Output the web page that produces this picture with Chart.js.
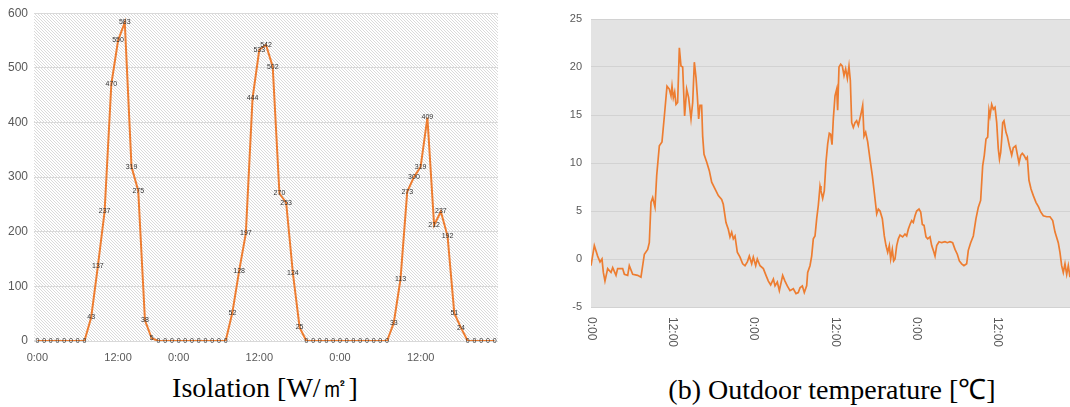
<!DOCTYPE html>
<html>
<head>
<meta charset="utf-8">
<script src="https://cdn.jsdelivr.net/npm/chart.js@4.4.1/dist/chart.umd.min.js"></script>
<style>
body { margin: 0; background: #fff; width: 1070px; height: 407px; overflow: hidden; position: relative; }
#wrapL { position: absolute; left: 0; top: 0; width: 510px; height: 365px; }
#wrapR { position: absolute; left: 560px; top: 0; width: 510px; height: 365px; }
.cap { position: absolute; top: 369px; font-family: 'Liberation Serif', 'Times New Roman', serif; font-size: 28px; color: #000; white-space: nowrap; text-align: center; }
#capL { left: 115px; width: 300px; }
#capR { left: 632px; width: 400px; }
</style>
</head>
<body>
<div id="wrapL"><canvas id="isoChart" width="510" height="365"></canvas></div>
<div id="wrapR"><canvas id="tempChart" width="510" height="365"></canvas></div>
<div class="cap" id="capL">Isolation [W/㎡]</div>
<div class="cap" id="capR">(b) Outdoor temperature [℃]</div>
<script>
// insolation, hourly points
const isoValues = [
    0, 0, 0, 0, 0, 0, 0, 0, 43, 137, 237, 470, 550, 583, 319, 275, 38, 5,
    0, 0, 0, 0, 0, 0, 0, 0, 0, 0, 0,
    52, 128, 197, 444, 533, 542, 502, 270, 253, 124, 25,
    0, 0, 0, 0, 0, 0, 0, 0, 0, 0, 0, 0, 0,
    33, 113, 273, 300, 319, 409, 212, 237, 192, 51, 24,
    0, 0, 0, 0, 0
];
const isoTickIdx = [0, 12, 21, 33, 45, 57];
const isoTickText = ['0:00', '12:00', '0:00', '12:00', '0:00', '12:00'];

// outdoor temperature, hours from start / degC
const tempHours = [
    0.00, 0.49, 0.98, 1.33, 1.62, 1.82, 2.06, 2.46, 2.95, 3.20, 3.69, 3.93, 4.67, 4.92, 5.41, 5.65,
    6.15, 6.88, 7.37, 7.87, 8.36, 8.60, 8.85, 9.10, 9.44, 9.69, 10.08, 10.47, 10.82, 11.21, 11.55,
    11.80, 11.95, 12.14, 12.34, 12.54, 12.78, 13.03, 13.27, 13.52, 13.81, 14.11, 14.40, 14.75, 15.00,
    15.24, 15.49, 15.68, 15.88, 16.08, 16.32, 16.47, 16.67, 17.06, 17.45, 17.80, 18.29, 18.78, 19.27,
    19.51, 19.91, 20.25, 20.50, 20.75, 20.99, 21.24, 21.58, 21.98, 22.37, 22.71, 23.06, 23.35, 23.70,
    23.94, 24.29, 24.53, 24.93, 25.42, 25.81, 26.16, 26.50, 26.90, 27.14, 27.48, 27.78, 28.27, 28.61,
    28.95, 29.35, 29.84, 30.24, 30.57, 30.83, 31.17, 31.46, 31.81, 31.96, 32.30, 32.55, 32.79, 33.04,
    33.29, 33.53, 33.78, 33.92, 34.17, 34.41, 34.66, 34.91, 35.15, 35.35, 35.55, 35.74, 35.99, 36.24,
    36.38, 36.58, 36.83, 37.07, 37.32, 37.56, 37.81, 38.05, 38.25, 38.45, 38.69, 38.94, 39.18, 39.43,
    39.82, 40.07, 40.27, 40.51, 40.81, 41.15, 41.49, 41.79, 42.14, 42.38, 42.63, 42.97, 43.26, 43.51,
    43.76, 44.00, 44.20, 44.44, 44.64, 44.84, 45.09, 45.33, 45.58, 45.97, 46.31, 46.56, 46.80, 47.05,
    47.30, 47.54, 47.79, 48.03, 48.38, 48.63, 48.87, 49.12, 49.41, 49.66, 50.00, 50.25, 50.49, 50.74,
    50.99, 51.33, 51.73, 52.21, 52.55, 52.95, 53.34, 53.69, 54.03, 54.33, 54.67, 55.01, 55.41, 55.65,
    56.00, 56.39, 56.78, 57.13, 57.47, 57.77, 58.01, 58.26, 58.51, 58.70, 58.85, 59.10, 59.34, 59.59,
    59.84, 60.07, 60.25, 60.43, 60.58, 60.72, 60.91, 61.21, 61.40, 61.70, 62.05, 62.29, 62.64, 62.88,
    63.13, 63.38, 63.61, 63.86, 64.16, 64.35, 64.60, 64.90, 65.24, 65.63, 66.03, 66.33, 66.71, 67.21,
    67.70, 68.10, 68.44, 68.92, 69.17, 69.42, 69.66, 69.91, 70.16, 70.40, 70.65
];
const tempValues = [
    -0.7, 1.4, 0.3, -0.3, 0.0, -1.4, -2.3, -1.0, -1.4, -0.9, -1.7, -1.0, -1.0, -1.6, -1.7, -0.7,
    -1.6, -1.7, -1.9, 0.5, 1.0, 1.7, 5.9, 6.4, 5.4, 8.7, 11.8, 12.2, 14.9, 18.0, 17.7,
    17.0, 18.0, 16.8, 17.4, 16.1, 16.3, 22.0, 20.1, 20.0, 14.9, 17.7, 16.8, 14.6, 16.3,
    20.5, 18.9, 17.0, 14.6, 16.0, 16.0, 12.8, 10.9, 10.1, 9.2, 8.0, 7.3, 6.6, 6.2,
    5.7, 3.8, 3.1, 2.3, 2.8, 2.1, 2.4, 0.7, 0.2, -0.5, -0.7, -0.3, 0.3, -0.5,
    0.2, -0.7, 0.0, -0.7, -1.0, -1.7, -2.3, -2.7, -2.1, -2.8, -2.4, -3.3, -1.7, -2.3,
    -2.8, -3.3, -3.1, -3.6, -3.5, -3.0, -2.8, -3.5, -2.8, -1.4, -0.7, 0.3, 2.1, 2.4,
    4.2, 5.6, 7.6, 7.1, 6.3, 7.1, 10.1, 12.0, 13.1, 13.0, 11.9, 14.6, 17.0, 17.7,
    15.5, 20.0, 20.3, 20.1, 19.1, 19.8, 18.8, 20.1, 18.6, 14.2, 13.7, 14.2, 14.4, 13.9,
    15.1, 16.0, 12.8, 13.2, 12.2, 10.4, 8.7, 6.9, 4.7, 5.2, 5.0, 4.2, 2.4, 1.4,
    0.7, 1.4, 0.0, 1.0, -0.2, 0.0, 1.4, 2.1, 2.5, 2.3, 2.6, 2.4, 3.1, 3.6,
    4.0, 3.8, 4.5, 5.0, 5.2, 4.9, 3.6, 3.5, 2.3, 2.1, 2.3, 1.4, 0.9, 0.3,
    1.4, 1.8, 1.7, 1.8, 1.7, 1.8, 1.7, 1.0, 0.5, -0.2, -0.5, -0.7, -0.5, 0.9,
    1.7, 2.4, 4.2, 5.4, 6.1, 9.7, 10.8, 12.5, 12.7, 15.5, 14.9, 16.1, 15.6, 15.8,
    14.2, 11.5, 10.4, 11.1, 12.5, 14.2, 14.4, 13.2, 12.8, 11.8, 10.8, 11.6, 11.8, 10.9,
    10.0, 10.8, 11.0, 10.8, 10.4, 10.6, 8.2, 7.3, 6.6, 5.9, 5.4, 4.9, 4.5, 4.4,
    4.4, 4.0, 2.8, 1.7, 0.7, -0.7, -1.4, -0.5, -1.6, -0.7, -1.9
];
const tempTickHours = [0, 12, 24, 36, 48, 60];
const tempTickText = ['0:00', '12:00', '0:00', '12:00', '0:00', '12:00'];

const orange = '#ed7d31';
const tickColor = '#595959';
const narrow = "'Liberation Sans Narrow', 'Arial Narrow', sans-serif";

// hatch for the left plot area
const hatch = document.createElement('canvas');
hatch.width = 3;
hatch.height = 3;
const hctx = hatch.getContext('2d');
hctx.fillStyle = '#ffffff';
hctx.fillRect(0, 0, 3, 3);
hctx.fillStyle = '#dadada';
for (let i = 0; i < 3; i++) hctx.fillRect(i, i, 1, 1);

const plotBg = {
    id: 'plotBg',
    beforeDraw(chart, args, opts) {
        const a = chart.chartArea;
        const ctx = chart.ctx;
        ctx.save();
        ctx.fillStyle = opts.pattern ? ctx.createPattern(hatch, 'repeat') : opts.color;
        ctx.fillRect(a.left, a.top, a.right - a.left, a.bottom - a.top);
        ctx.restore();
    }
};

const isoLabels = isoValues.map((v, i) => {
    const k = isoTickIdx.indexOf(i);
    return k >= 0 ? isoTickText[k] : '';
});

const pointLabels = {
    id: 'pointLabels',
    afterDatasetsDraw(chart) {
        const ctx = chart.ctx;
        const meta = chart.getDatasetMeta(0);
        ctx.save();
        ctx.font = '7px ' + narrow;
        ctx.fillStyle = '#333333';
        ctx.textAlign = 'center';
        ctx.textBaseline = 'middle';
        meta.data.forEach((pt, i) => {
            ctx.fillText(String(isoValues[i]), pt.x, pt.y);
        });
        ctx.restore();
    }
};

new Chart(document.getElementById('isoChart').getContext('2d'), {
    type: 'line',
    data: {
        labels: isoLabels,
        datasets: [{
            data: isoValues,
            borderColor: orange,
            borderWidth: 2,
            pointRadius: 0,
            tension: 0,
            fill: false
        }]
    },
    options: {
        responsive: false,
        animation: false,
        layout: { padding: { top: 10, right: 12, left: 0, bottom: 0 } },
        plugins: {
            legend: { display: false },
            tooltip: { enabled: false },
            plotBg: { pattern: true }
        },
        scales: {
            x: {
                type: 'category',
                offset: true,
                grid: { display: false, drawTicks: false },
                border: { display: false },
                ticks: {
                    autoSkip: false,
                    maxRotation: 0,
                    minRotation: 0,
                    padding: 10,
                    color: tickColor,
                    font: { family: narrow, size: 11 }
                },
                afterFit: (axis) => { axis.height = 24; }
            },
            y: {
                min: 0,
                max: 600,
                grid: { color: '#d9d9d9', drawTicks: false },
                border: { display: false },
                ticks: {
                    stepSize: 100,
                    padding: 6,
                    color: tickColor,
                    font: { family: narrow, size: 12 }
                },
                afterFit: (axis) => { axis.width = 34; }
            }
        }
    },
    plugins: [plotBg, pointLabels]
});

const rotatedTicks = {
    id: 'rotatedTicks',
    afterDraw(chart) {
        const ctx = chart.ctx;
        const xs = chart.scales.x;
        ctx.save();
        ctx.font = "12px 'Liberation Sans', Arial, sans-serif";
        ctx.fillStyle = tickColor;
        ctx.textAlign = 'left';
        ctx.textBaseline = 'middle';
        tempTickHours.forEach((h, i) => {
            ctx.save();
            ctx.translate(xs.getPixelForValue(h), chart.chartArea.bottom + 10);
            ctx.rotate(Math.PI / 2);
            ctx.fillText(tempTickText[i], 0, 0);
            ctx.restore();
        });
        ctx.restore();
    }
};

new Chart(document.getElementById('tempChart').getContext('2d'), {
    type: 'line',
    data: {
        datasets: [{
            data: tempHours.map((h, i) => ({ x: h, y: tempValues[i] })),
            borderColor: orange,
            borderWidth: 1.7,
            pointRadius: 0,
            tension: 0,
            fill: false
        }]
    },
    options: {
        responsive: false,
        animation: false,
        layout: { padding: { top: 19, right: 0, left: 0, bottom: 0 } },
        plugins: {
            legend: { display: false },
            tooltip: { enabled: false },
            plotBg: { color: '#e3e3e3' }
        },
        scales: {
            x: {
                type: 'linear',
                min: 0,
                max: 70.65,
                grid: { display: false },
                border: { display: false },
                ticks: { display: false },
                afterFit: (axis) => { axis.height = 58; }
            },
            y: {
                min: -5,
                max: 25,
                grid: { color: '#d2d2d2', drawTicks: false },
                border: { display: false },
                ticks: {
                    stepSize: 5,
                    padding: 9,
                    color: tickColor,
                    font: { family: narrow, size: 11 }
                },
                afterFit: (axis) => { axis.width = 31; }
            }
        }
    },
    plugins: [plotBg, rotatedTicks]
});
</script>
</body>
</html>
